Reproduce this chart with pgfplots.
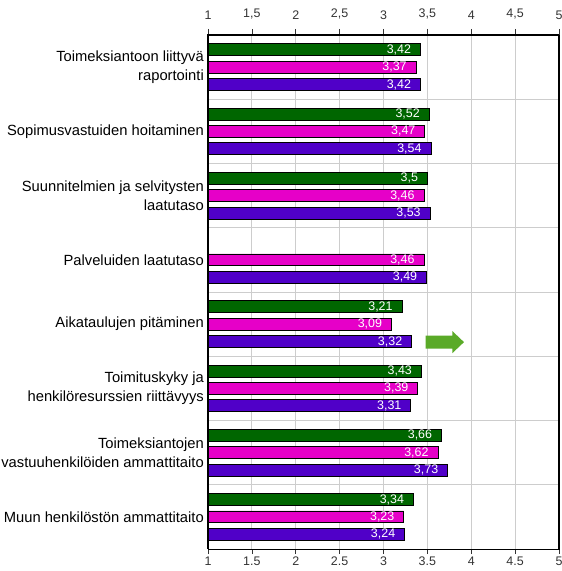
\documentclass[border=0pt]{standalone}
\usepackage{pgfplots}
\pgfplotsset{compat=1.18}
\usepackage{fontspec}
\setmainfont{Liberation Sans}
\definecolor{cgreen}{RGB}{0,102,0}
\definecolor{cmag}{RGB}{230,0,200}
\definecolor{cpur}{RGB}{80,0,200}
\definecolor{carrow}{RGB}{90,170,40}
\definecolor{cgrid}{RGB}{205,205,205}
\begin{document}
\begin{tikzpicture}
\pgfplotsset{
  barstyle/.style={xbar, bar width=0.185, bar shift=0, draw=black, line width=0.7bp,
    point meta=x,
    nodes near coords,
    nodes near coords style={anchor=east, white, inner sep=1bp, xshift=-8bp,
      font=\fontsize{12.5}{13}\selectfont,
      /pgf/number format/.cd, use comma, fixed, precision=2, assume math mode=true}},
}
\begin{axis}[
  name=main,
  scale only axis, width=351bp, height=514bp,
  xmin=1, xmax=5, ymin=-0.5, ymax=7.5, y dir=reverse,
  xtick={1,1.5,2,2.5,3,3.5,4,4.5,5},
  xticklabels={1,1.5,2,2.5,3,3.5,4,4.5,5},
  xtick pos=left, xticklabel pos=left,
  tick align=outside, major tick length=5bp,
  xticklabel style={font=\fontsize{12.5}{14}\selectfont, text=black!80, yshift=1bp},
  x tick style={black!80, line width=0.6bp},
  ytick={0,1,2,3,4,5,6,7},
  yticklabels={Toimeksiantoon liittyvä\\raportointi,
    Sopimusvastuiden hoitaminen,
    Suunnitelmien ja selvitysten\\laatutaso,
    Palveluiden laatutaso,
    Aikataulujen pitäminen,
    Toimituskyky ja\\henkilöresurssien riittävyys,
    Toimeksiantojen\\vastuuhenkilöiden ammattitaito,
    Muun henkilöstön ammattitaito},
  yticklabel style={align=right, font=\fontsize{14.8}{19}\selectfont, inner sep=1bp, xshift=2bp},
  y tick style={draw=none},
  minor ytick={0.5,1.5,2.5,3.5,4.5,5.5,6.5},
  xmajorgrids, yminorgrids,
  grid style={cgrid, line width=0.8bp},
  minor grid style={cgrid, line width=0.8bp},
  axis line style={black, line width=1bp},
  /pgf/number format/assume math mode=true,
  clip=true,
]
\addplot[barstyle, fill=cgreen] coordinates {
  (3.42,-0.27) (3.52,0.73) (3.5,1.73) (3.21,3.73) (3.43,4.73) (3.66,5.73) (3.34,6.73)};
\addplot[barstyle, fill=cmag] coordinates {
  (3.37,0) (3.47,1) (3.46,2) (3.46,3) (3.09,4) (3.39,5) (3.62,6) (3.23,7)};
\addplot[barstyle, fill=cpur] coordinates {
  (3.42,0.27) (3.54,1.27) (3.53,2.27) (3.49,3.27) (3.32,4.27) (3.31,5.27) (3.73,6.27) (3.24,7.27)};
\fill[carrow] (axis cs:3.48,4.18) -- (axis cs:3.786,4.18) -- (axis cs:3.786,4.11)
  -- (axis cs:3.917,4.28) -- (axis cs:3.786,4.45) -- (axis cs:3.786,4.38)
  -- (axis cs:3.48,4.38) -- cycle;
\end{axis}
\begin{axis}[
  scale only axis, width=351bp, height=514bp,
  xmin=1, xmax=5, ymin=-0.5, ymax=7.5,
  xtick={1,1.5,2,2.5,3,3.5,4,4.5,5},
  xticklabels={1,{1,5},2,{2,5},3,{3,5},4,{4,5},5},
  xtick pos=right, xticklabel pos=right,
  tick align=outside, major tick length=6bp,
  xticklabel style={font=\fontsize{12.5}{14}\selectfont, text=black!80, yshift=6bp},
  x tick style={black!80, line width=0.6bp},
  ytick=\empty,
  axis line style={draw=none},
]
\addplot[draw=none] coordinates {(1,0)};
\end{axis}
\draw[black, line width=2.6bp] (main.south west) -- (main.north west) -- (main.north east);
\draw[black, line width=2bp] (main.north east) -- (main.south east);
\pgfresetboundingbox
\path ([xshift=-208bp, yshift=-22bp]main.south west) rectangle ([xshift=2bp, yshift=35bp]main.north east);
\end{tikzpicture}
\end{document}
